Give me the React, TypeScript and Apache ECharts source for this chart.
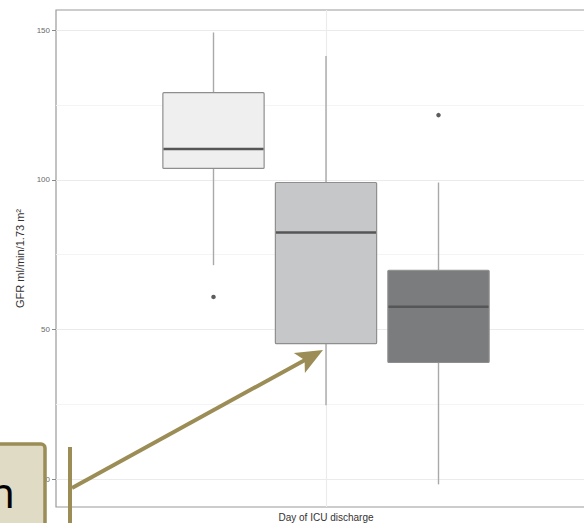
import React, { useEffect, useRef } from "react";
import * as echarts from "echarts";

// ---- data ----
const categories = ["Day of ICU discharge"];
const groupNames = ["Group 1", "Group 2", "Group 3"];
// [lower whisker, Q1, median, Q3, upper whisker]
const statsGroup1 = [71.5, 103.8, 110.3, 129.1, 149.2];
const statsGroup2 = [24.7, 45.3, 82.4, 99.1, 141.3];
const statsGroup3 = [-1.7, 39.0, 57.6, 69.8, 99.1];
const outliersGroup1 = [60.9];
const outliersGroup2: number[] = [];
const outliersGroup3 = [121.6];
const yTicks = [0, 50, 100, 150];
const yMinorBreaks = [25, 75, 125];
const yTitle = "GFR ml/min/1.73 m²";
const annotationText = "n";

// ---- styles ----
const boxFills = ["#eeefee", "#c6c7c9", "#7b7c7e"];
const olive = "#9b8d55";

export default function App() {
  const ref = useRef<HTMLDivElement>(null);

  useEffect(() => {
    if (!ref.current) return;
    const chart = echarts.init(ref.current, undefined, { renderer: "svg" });

    const stats = [statsGroup1, statsGroup2, statsGroup3];
    const outliers = [outliersGroup1, outliersGroup2, outliersGroup3];
    const n = stats.length;
    const catPos = 1; // first (only) discrete position
    const dodge = 0.75;
    const slot = dodge / n;
    const boxW = slot * 0.9;
    const centerOf = (i: number) => catPos + (i - (n - 1) / 2) * slot;

    const boxSeries = stats.map((s, i) => ({
      type: "custom",
      name: groupNames[i],
      z: 3,
      coordinateSystem: "cartesian2d",
      encode: { x: 0, y: [1, 2, 3, 4, 5] },
      data: [[centerOf(i), ...s]],
      renderItem: (params: any, api: any) => {
        const x = api.value(0);
        const lo = api.value(1);
        const q1 = api.value(2);
        const med = api.value(3);
        const q3 = api.value(4);
        const hi = api.value(5);
        const tl = api.coord([x - boxW / 2, q3]);
        const br = api.coord([x + boxW / 2, q1]);
        const cx = api.coord([x, med])[0];
        const yHi = api.coord([x, hi])[1];
        const yLo = api.coord([x, lo])[1];
        const yMed = api.coord([x, med])[1];
        const wStyle = { stroke: "#a9a9a9", lineWidth: 1.4 };
        return {
          type: "group",
          children: [
            { type: "line", shape: { x1: cx, y1: yHi, x2: cx, y2: tl[1] }, style: wStyle },
            { type: "line", shape: { x1: cx, y1: br[1], x2: cx, y2: yLo }, style: wStyle },
            {
              type: "rect",
              shape: { x: tl[0], y: tl[1], width: br[0] - tl[0], height: br[1] - tl[1], r: 1 },
              style: { fill: boxFills[i], stroke: "#8e8e8e", lineWidth: 1.2 },
            },
            {
              type: "line",
              shape: { x1: tl[0] + 0.6, y1: yMed, x2: br[0] - 0.6, y2: yMed },
              style: { stroke: "#565656", lineWidth: 2.6 },
            },
          ],
        };
      },
    }));

    const outlierSeries = outliers.map((o, i) => ({
      type: "scatter",
      name: groupNames[i] + " outliers",
      z: 4,
      symbol: "circle",
      symbolSize: 4.5,
      itemStyle: { color: "#333333" },
      silent: true,
      data: o.map((v) => [centerOf(i), v]),
    }));

    const gridSeries = {
      type: "line",
      name: "grid",
      data: [],
      silent: true,
      markLine: {
        z: 1,
        silent: true,
        symbol: ["none", "none"],
        label: { show: false },
        animation: false,
        data: [
          ...yMinorBreaks.map((v) => ({ yAxis: v, lineStyle: { color: "#f3f3f3", width: 0.9, type: "solid" } })),
          ...yTicks.map((v) => ({ yAxis: v, lineStyle: { color: "#ebebeb", width: 1.1, type: "solid" } })),
          { xAxis: catPos, lineStyle: { color: "#ebebeb", width: 1.1, type: "solid" } },
        ],
      },
    };

    // annotation overlay
    const arrowStart = [72, 488];
    const arrowTip = [323, 350];
    const dx = arrowTip[0] - arrowStart[0];
    const dy = arrowTip[1] - arrowStart[1];
    const len = Math.sqrt(dx * dx + dy * dy);
    const ux = dx / len;
    const uy = dy / len;
    const nx = -uy;
    const ny = ux;
    const headLen = 27;
    const headHalf = 11.5;
    const notch = 21;
    const wingBase = [arrowTip[0] - ux * headLen, arrowTip[1] - uy * headLen];
    const notchPt = [arrowTip[0] - ux * notch, arrowTip[1] - uy * notch];

    chart.setOption({
      animation: false,
      grid: {
        left: 56,
        top: 10,
        right: -12,
        bottom: 16,
        show: true,
        borderColor: "#9a9a9a",
        borderWidth: 1.2,
        backgroundColor: "transparent",
        containLabel: false,
        outerBoundsMode: "none",
      },
      xAxis: {
        type: "value",
        min: 0.4,
        max: 1.6,
        axisLine: { show: false },
        splitLine: { show: false },
        axisTick: { show: true, customValues: [catPos], length: 3, lineStyle: { color: "#888" } },
        axisLabel: {
          show: true,
          customValues: [catPos],
          formatter: (v: number) => (Math.abs(v - catPos) < 1e-9 ? categories[0] : ""),
          fontSize: 10,
          fontFamily: "Liberation Sans",
          color: "#333",
          margin: 5,
        },
      },
      yAxis: {
        type: "value",
        min: -9.25,
        max: 156.7,
        axisLine: { show: false },
        splitLine: { show: false },
        axisTick: { show: true, customValues: yTicks, length: 4, lineStyle: { color: "#888" } },
        axisLabel: {
          show: true,
          customValues: yTicks,
          fontSize: 8,
          fontFamily: "Liberation Sans",
          color: "#6a6a6a",
          margin: 6,
        },
        name: yTitle,
        nameLocation: "middle",
        nameGap: 23.5,
        nameTextStyle: { fontSize: 11, fontFamily: "Liberation Sans", color: "#333" },
      },
      series: [gridSeries, ...boxSeries, ...outlierSeries],
      graphic: [
        {
          type: "rect",
          z: 100,
          shape: { x: -10, y: 444, width: 55, height: 110, r: 4 },
          style: { fill: "#dfdbc5", stroke: olive, lineWidth: 3.5 },
        },
        {
          type: "text",
          z: 101,
          x: 15,
          y: 491,
          style: {
            text: annotationText,
            fontSize: 42,
            fontFamily: "Noto Sans",
            fill: "#000",
            align: "right",
            verticalAlign: "middle",
          },
        },
        {
          type: "line",
          z: 100,
          shape: { x1: 70, y1: 447, x2: 70, y2: 530 },
          style: { stroke: olive, lineWidth: 4 },
        },
        {
          type: "line",
          z: 100,
          shape: { x1: arrowStart[0], y1: arrowStart[1], x2: notchPt[0] + ux * 2, y2: notchPt[1] + uy * 2 },
          style: { stroke: olive, lineWidth: 4 },
        },
        {
          type: "polygon",
          z: 100,
          shape: {
            points: [
              arrowTip,
              [wingBase[0] + nx * headHalf, wingBase[1] + ny * headHalf],
              notchPt,
              [wingBase[0] - nx * headHalf, wingBase[1] - ny * headHalf],
            ],
          },
          style: { fill: olive },
        },
      ],
    });

    return () => chart.dispose();
  }, []);

  return (
    <div
      ref={ref}
      style={{ position: "absolute", left: 0, top: 0, width: 584, height: 523, background: "#fff" }}
    />
  );
}
